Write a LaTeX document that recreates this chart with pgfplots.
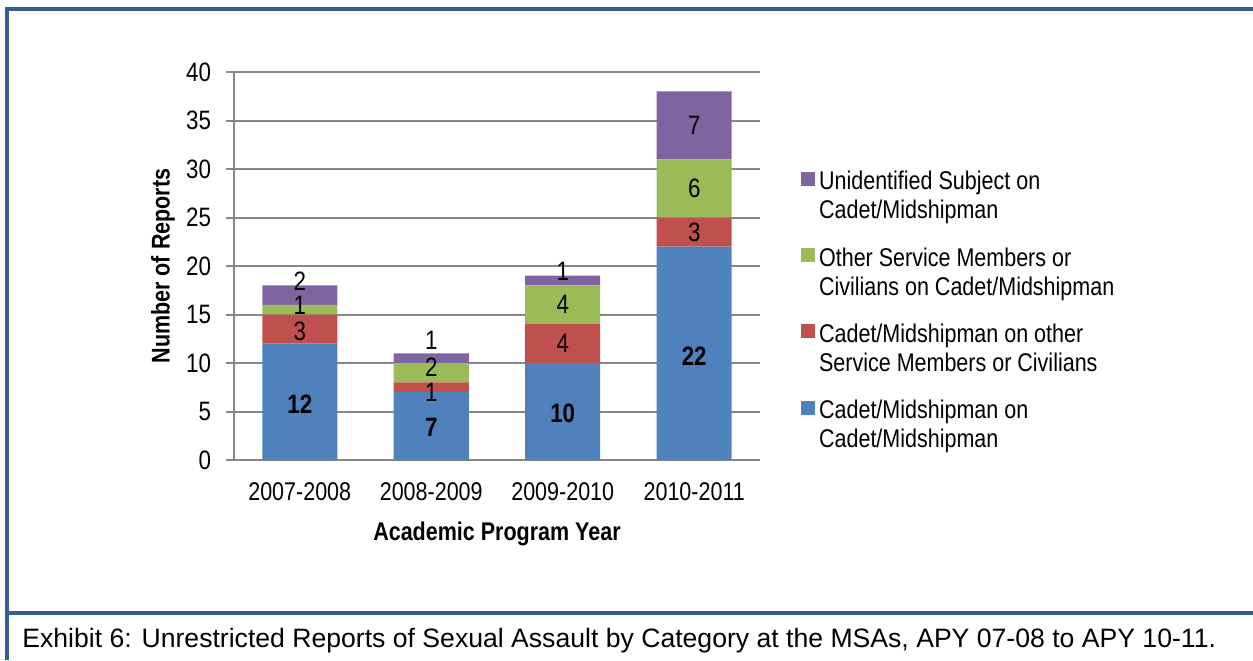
\documentclass[border=0pt]{standalone}
\usepackage{fontspec}
\setmainfont[FakeStretch=0.84]{Liberation Sans}
\newfontfamily\capfont{Liberation Sans}
\usepackage{pgfplots}
\pgfplotsset{compat=1.18}
\usepackage{pgfplotstable}
\definecolor{cblue}{HTML}{4F81BD}
\definecolor{cred}{HTML}{C0504D}
\definecolor{cgreen}{HTML}{9BBB59}
\definecolor{cpurple}{HTML}{8064A2}
\definecolor{framec}{HTML}{365F91}
\definecolor{gridc}{HTML}{868686}
\newcommand{\chfont}{\fontsize{12.8pt}{14.5pt}\selectfont}
\newcommand{\lbfont}{\fontsize{13.3pt}{15pt}\selectfont}

\pgfplotstableread{
x  cc  co  os  us
0  12  3   1   2
1  7   1   2   1
2  10  4   4   1
3  22  3   6   7
}\datatable

\pgfplotstableread{
x y lbl
0 18.45 2
0 15.9 1
0 13.3 3
1 12.3 1
1 9.6 2
1 6.95 1
2 19.5 1
2 16 4
2 12 4
3 34.5 7
3 28 6
3 23.5 3
}\lblnormal

\pgfplotstableread{
x y lbl
0 5.8 12
1 3.4 7
2 4.85 10
3 10.7 22
}\lblbold

\begin{document}
\begin{tikzpicture}
\path[use as bounding box] (0pt,0pt) rectangle (626.5pt,-330pt);
\draw[framec, line width=2pt] (3.5pt,-3.5pt) -- (3.5pt,-330pt);
\draw[framec, line width=2pt] (2.5pt,-4.5pt) -- (626.5pt,-4.5pt);
\draw[framec, line width=2pt] (3.5pt,-306.5pt) -- (626.5pt,-306.5pt);
\node[anchor=base west, inner sep=0pt, font=\capfont\fontsize{13.3pt}{15pt}\selectfont] at (11pt,-323.5pt)
  {Exhibit 6: Unrestricted Reports of Sexual Assault by Category at the MSAs, APY 07-08 to APY 10-11.};

\begin{axis}[
  at={(117pt,-230pt)}, anchor=south west,
  width=263pt, height=194pt, scale only axis,
  ybar stacked, bar width=37.5pt,
  xmin=-0.5, xmax=3.5, ymin=0, ymax=40,
  xtick={0,1,2,3},
  xticklabels={2007-2008,2008-2009,2009-2010,2010-2011},
  ytick={0,5,...,40},
  axis x line=bottom, axis y line=left,
  axis line style={-, gridc, line width=1pt},
  xtick style={draw=none},
  ytick style={gridc, line width=1pt},
  tick align=outside, major tick length=4pt,
  ymajorgrids, major grid style={gridc, line width=1pt},
  tick label style={font=\chfont},
  /pgf/number format/assume math mode=true,
  xticklabel style={yshift=-4pt},
  yticklabel style={xshift=-4pt, font=\lbfont},
  xlabel={\bfseries Academic Program Year},
  ylabel={\bfseries Number of Reports},
  every axis x label/.style={at={(rel axis cs:0.5,0)}, anchor=center, yshift=-37pt, font=\chfont},
  every axis y label/.style={at={(rel axis cs:0,0.5)}, anchor=center, rotate=90, yshift=35.5pt, font=\chfont},
  legend style={at={(rel axis cs:1.0774,0.76)}, anchor=north west, draw=none, fill=none,
     font=\chfont, row sep=22.5pt, inner sep=0pt,
     nodes={anchor=base west},
     /tikz/every even column/.append style={column sep=4pt}},
  reverse legend,
  legend image code/.code={\fill[#1] (0pt,2pt) rectangle (7pt,9pt);},
]
\addplot[fill=cblue, draw=none] table[x=x,y=cc] {\datatable};
\addlegendentry{\begin{tabular}[t]{@{}l@{}}Cadet/Midshipman on\\Cadet/Midshipman\end{tabular}}
\addplot[fill=cred, draw=none] table[x=x,y=co] {\datatable};
\addlegendentry{\begin{tabular}[t]{@{}l@{}}Cadet/Midshipman on other\\Service Members or Civilians\end{tabular}}
\addplot[fill=cgreen, draw=none] table[x=x,y=os] {\datatable};
\addlegendentry{\begin{tabular}[t]{@{}l@{}}Other Service Members or\\Civilians on Cadet/Midshipman\end{tabular}}
\addplot[fill=cpurple, draw=none] table[x=x,y=us] {\datatable};
\addlegendentry{\begin{tabular}[t]{@{}l@{}}Unidentified Subject on\\Cadet/Midshipman\end{tabular}}
\end{axis}

\begin{axis}[
  at={(117pt,-230pt)}, anchor=south west,
  width=263pt, height=194pt, scale only axis,
  hide axis, clip=false,
  xmin=-0.5, xmax=3.5, ymin=0, ymax=40,
]
\addplot[draw=none, mark=none, nodes near coords, point meta=explicit symbolic,
  nodes near coords style={anchor=center, inner sep=0pt, font=\lbfont}] table[x=x,y=y,meta=lbl] {\lblnormal};
\addplot[draw=none, mark=none, nodes near coords, point meta=explicit symbolic,
  nodes near coords style={anchor=center, inner sep=0pt, font=\lbfont\bfseries}] table[x=x,y=y,meta=lbl] {\lblbold};
\end{axis}
\end{tikzpicture}
\end{document}
